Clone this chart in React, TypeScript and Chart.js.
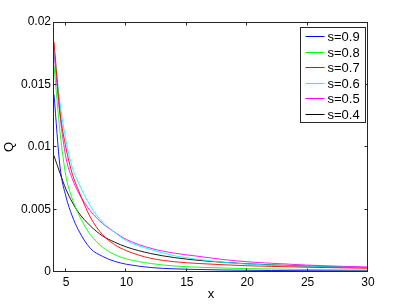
import React, { useEffect, useRef } from 'react';
import { Chart, registerables } from 'chart.js';

Chart.register(...registerables);

const xValues = [4, 4.5, 5, 5.5, 6, 7, 8, 9, 10, 12, 14, 16, 18, 20, 22, 25, 28, 30];
const s09 = [0.0142, 0.0084, 0.006, 0.0045, 0.0034, 0.0019, 0.00126, 0.00086, 0.00062, 0.00036, 0.00025, 0.0002, 0.00016, 0.00014, 0.00012, 0.0001, 0.00009, 0.00008];
const s08 = [0.0165, 0.0112, 0.0076, 0.0059, 0.0047, 0.003, 0.002, 0.0014, 0.00105, 0.00068, 0.00048, 0.00038, 0.00032, 0.00027, 0.00024, 0.0002, 0.00017, 0.00015];
const s07 = [0.0184, 0.0128, 0.0099, 0.0079, 0.0066, 0.0044, 0.003, 0.0022, 0.0017, 0.0011, 0.00082, 0.00068, 0.00058, 0.0005, 0.00045, 0.00038, 0.00033, 0.0003];
const s06 = [0.018, 0.0135, 0.0105, 0.0084, 0.0072, 0.0053, 0.004, 0.0032, 0.0025, 0.0018, 0.0013, 0.001, 0.00078, 0.00064, 0.00055, 0.00045, 0.00038, 0.00034];
const s05 = [0.0176, 0.0125, 0.0091, 0.0075, 0.0064, 0.0049, 0.0039, 0.0032, 0.0026, 0.0019, 0.0015, 0.00125, 0.001, 0.00082, 0.0007, 0.00055, 0.00045, 0.0004];
const s04 = [0.0093, 0.0079, 0.0066, 0.0056, 0.0048, 0.0037, 0.0029, 0.0024, 0.002, 0.00148, 0.00115, 0.00093, 0.00078, 0.00066, 0.00057, 0.00047, 0.0004, 0.00036];

const seriesValues = [s09, s08, s07, s06, s05, s04];
const seriesLabels = ['s=0.9', 's=0.8', 's=0.7', 's=0.6', 's=0.5', 's=0.4'];
const seriesColors = ['#0000ff', '#00ff00', '#ff0000', '#00ffff', '#ff00ff', '#000000'];

const xTicks = [5, 10, 15, 20, 25, 30];
const yTicks = [0, 0.005, 0.01, 0.015, 0.02];
const yTickLabels = ['0', '0.005', '0.01', '0.015', '0.02'];
const xTitle = 'x';
const yTitle = 'Q';

const FONT = '"Liberation Sans", Arial, Helvetica, sans-serif';
const AXIS_COLOR = '#262626';

const framePlugin = {
  id: 'matlabFrame',
  afterDatasetsDraw(chart: any) {
    const { ctx, chartArea } = chart;
    const xs = chart.scales.x;
    const ys = chart.scales.y;
    const L = Math.round(chartArea.left) - 0.5;
    const R = Math.round(chartArea.right) - 0.5;
    const T = Math.round(chartArea.top) + 0.5;
    const B = Math.round(chartArea.bottom) - 0.5;
    ctx.save();
    ctx.strokeStyle = AXIS_COLOR;
    ctx.lineWidth = 1;
    ctx.strokeRect(L, T, R - L, B - T);
    const tl = 3;
    ctx.beginPath();
    xTicks.forEach((v) => {
      const px = Math.min(R, Math.max(L, Math.round(xs.getPixelForValue(v)) - 0.5));
      ctx.moveTo(px, B);
      ctx.lineTo(px, B - tl);
      ctx.moveTo(px, T);
      ctx.lineTo(px, T + tl);
    });
    yTicks.forEach((v) => {
      const py = Math.min(B, Math.max(T, Math.round(ys.getPixelForValue(v)) - 0.5));
      ctx.moveTo(L, py);
      ctx.lineTo(L + tl, py);
      ctx.moveTo(R, py);
      ctx.lineTo(R - tl, py);
    });
    ctx.stroke();

    // legend
    const boxR = R - 2;
    const boxL = boxR - 65;
    const boxT = T + 5;
    const boxB = boxT + 95;
    ctx.fillStyle = '#ffffff';
    ctx.fillRect(boxL, boxT, boxR - boxL, boxB - boxT);
    ctx.strokeStyle = AXIS_COLOR;
    ctx.strokeRect(boxL, boxT, boxR - boxL, boxB - boxT);
    ctx.font = '13px ' + FONT;
    ctx.textBaseline = 'middle';
    ctx.textAlign = 'left';
    seriesLabels.forEach((lab, i) => {
      const cy = Math.round(boxT + 8.5 + i * 15.6) + 0.5;
      ctx.strokeStyle = seriesColors[i];
      ctx.beginPath();
      ctx.moveTo(boxL + 5, cy);
      ctx.lineTo(boxL + 24, cy);
      ctx.stroke();
      ctx.fillStyle = '#000';
      ctx.fillText(lab, boxL + 27, cy + 0.5);
    });

    // axis titles
    ctx.fillStyle = '#000';
    ctx.font = '13px ' + FONT;
    ctx.textAlign = 'center';
    ctx.textBaseline = 'middle';
    ctx.fillText(xTitle, (chartArea.left + chartArea.right) / 2, 294);
    ctx.save();
    ctx.translate(9, (chartArea.top + chartArea.bottom) / 2);
    ctx.rotate(-Math.PI / 2);
    ctx.fillText(yTitle, 0, 0);
    ctx.restore();
    ctx.restore();
  },
};

export default function App() {
  const ref = useRef<HTMLCanvasElement | null>(null);
  useEffect(() => {
    if (!ref.current) return;
    const datasets = seriesValues.map((vals, i) => ({
      label: seriesLabels[i],
      data: vals.map((y, j) => ({ x: xValues[j], y })),
      borderColor: seriesColors[i],
      backgroundColor: seriesColors[i],
      borderWidth: 0.9,
      pointRadius: 0,
      fill: false,
      cubicInterpolationMode: 'monotone' as const,
    }));
    const chart = new Chart(ref.current, {
      type: 'line',
      data: { datasets },
      options: {
        animation: false,
        responsive: false,
        maintainAspectRatio: false,
        layout: { padding: { left: 0, right: 39, top: 22, bottom: 0 } },
        plugins: { legend: { display: false }, tooltip: { enabled: false } },
        scales: {
          x: {
            type: 'linear',
            min: 4,
            max: 30,
            grid: { display: false, drawTicks: false },
            border: { display: false },
            ticks: { color: '#000', font: { family: FONT, size: 12 }, padding: 3, maxRotation: 0 },
            afterBuildTicks: (s: any) => {
              s.ticks = xTicks.map((v) => ({ value: v }));
            },
            afterFit: (s: any) => {
              s.height = 33;
            },
          },
          y: {
            type: 'linear',
            min: 0,
            max: 0.02,
            grid: { display: false, drawTicks: false },
            border: { display: false },
            ticks: {
              color: '#000',
              font: { family: FONT, size: 12 },
              padding: 3,
              callback: (v: any) => {
                const idx = yTicks.findIndex((t) => Math.abs(t - Number(v)) < 1e-9);
                return idx >= 0 ? yTickLabels[idx] : '';
              },
            },
            afterBuildTicks: (s: any) => {
              s.ticks = yTicks.map((v) => ({ value: v }));
            },
            afterFit: (s: any) => {
              s.width = 54;
            },
          },
        },
      },
      plugins: [framePlugin],
    });
    return () => chart.destroy();
  }, []);
  return (
    <div style={{ position: 'fixed', left: 0, top: 0, width: 407, height: 305, background: '#fff' }}>
      <canvas ref={ref} width={407} height={305} style={{ width: 407, height: 305, display: 'block' }} />
    </div>
  );
}
